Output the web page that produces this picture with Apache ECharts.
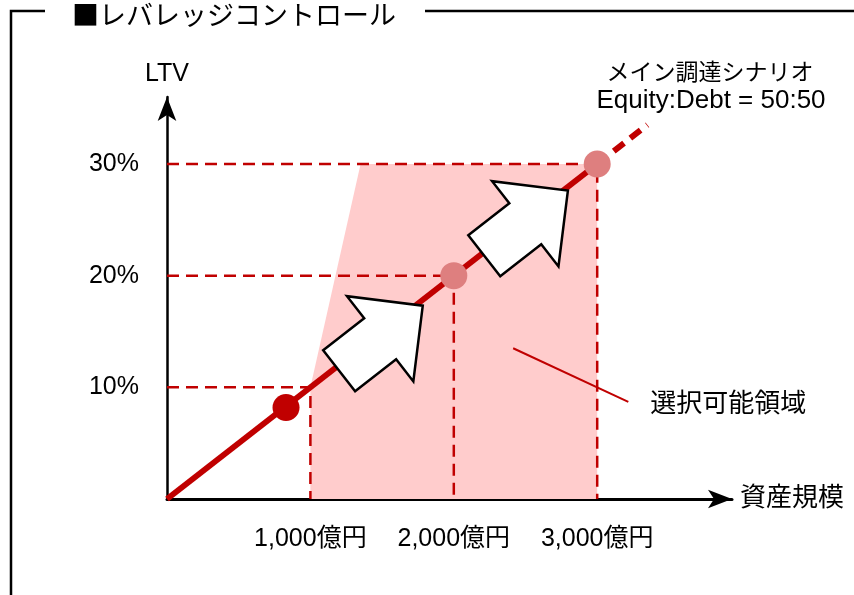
<!DOCTYPE html>
<html>
<head>
<meta charset="utf-8">
<script src="https://cdn.jsdelivr.net/npm/echarts@6/dist/echarts.min.js"></script>
<style>
  html, body { margin: 0; padding: 0; background: #fff; }
  #chart { width: 854px; height: 595px; }
</style>
</head>
<body>
<div id="chart"></div>
<script>
// Axis ticks: asset size (億円) and LTV (%)
const xTickValues = [1000, 2000, 3000];
const xTickLabels = ['1,000億円', '2,000億円', '3,000億円'];
const yTickValues = [10, 20, 30];
const yTickLabels = ['10%', '20%', '30%'];

// Main funding scenario: LTV grows with asset size
const scenarioSolid = [[0, 0], [3000, 30]];
const scenarioDashed = [[3000, 30], [3350, 33.5]];

// Markers on the scenario line
const currentPoint = [[830, 8.2]];
const targetPoints = [[2000, 20], [3000, 30]];

// Milestones (asset size, LTV) with drop lines to both axes
const milestoneX = [1000, 2000, 3000];
const milestoneY = [10, 20, 30];

// Outline of the selectable area
const regionX = [1000, 1000, 1350, 3000, 3000];
const regionY = [0, 10, 30, 30, 0];

// Growth arrows placed along the scenario line
const arrowX = [1492, 2504];
const arrowY = [14.4, 24.7];

// Leader line pointing into the selectable area
const leaderX = [2414, 3217];
const leaderY = [13.5, 8.7];

const FONT = "'Liberation Sans', Arial, 'Noto Sans CJK JP', sans-serif";
const JP_FONT = "'Noto Sans CJK JP', sans-serif";
const RED = '#c00000';
const PINK_FILL = '#ffcccc';
const PINK_DOT = '#de7f7f';

const chart = echarts.init(document.getElementById('chart'), null, { renderer: 'canvas' });

const pickLabel = (values, labels) => v => {
  const i = values.indexOf(v);
  return i < 0 ? '' : labels[i];
};

const dropLines = milestoneX.map((x, i) => ({
  type: 'line',
  z: 3,
  silent: true,
  symbol: 'none',
  data: [[0, milestoneY[i]], [x, milestoneY[i]], [x, 0]],
  lineStyle: { color: RED, width: 2.5, type: [12, 7] }
}));

const arrowShape = [[-53, -26], [-1, -26], [-1, -54], [53, 0], [-1, 54], [-1, 26], [-53, 26]];

const option = {
  animation: false,
  backgroundColor: '#fff',
  grid: { left: 167, right: 122, top: 97, bottom: 96, containLabel: false },
  xAxis: {
    type: 'value',
    min: 0,
    max: 3940,
    interval: 1000,
    name: '資産規模',
    nameLocation: 'end',
    nameGap: 8,
    nameTextStyle: { fontFamily: FONT, fontSize: 26, color: '#000', verticalAlign: 'middle', padding: [8, 0, 0, 0] },
    axisLine: {
      show: true, onZero: false,
      symbol: ['none', 'arrow'], symbolSize: [14, 24],
      lineStyle: { color: '#000', width: 3 }
    },
    axisTick: { show: false },
    splitLine: { show: false },
    axisLabel: {
      margin: 28, fontFamily: FONT, fontSize: 25, color: '#000',
      formatter: pickLabel(xTickValues, xTickLabels)
    }
  },
  yAxis: {
    type: 'value',
    min: 0,
    max: 36,
    interval: 10,
    name: 'LTV',
    nameLocation: 'end',
    nameGap: 10,
    nameTextStyle: { fontFamily: FONT, fontSize: 25, color: '#000' },
    axisLine: {
      show: true, onZero: false,
      symbol: ['none', 'arrow'], symbolSize: [14, 24],
      lineStyle: { color: '#000', width: 2.5 }
    },
    axisTick: { show: false },
    splitLine: { show: false },
    axisLabel: {
      margin: 28, fontFamily: FONT, fontSize: 25, color: '#000',
      formatter: pickLabel(yTickValues, yTickLabels)
    }
  },
  series: [
    {
      // selectable area
      type: 'custom',
      z: 1,
      silent: true,
      data: regionX.map((x, i) => [x, regionY[i]]),
      renderItem: (params, api) => {
        if (params.dataIndex !== 0) return null;
        const pts = regionX.map((x, i) => api.coord([x, regionY[i]]));
        return { type: 'polygon', shape: { points: pts }, style: { fill: PINK_FILL } };
      }
    },
    ...dropLines,
    {
      type: 'line',
      z: 4,
      silent: true,
      symbol: 'none',
      data: scenarioSolid,
      lineStyle: { color: RED, width: 6 }
    },
    {
      type: 'line',
      z: 4,
      silent: true,
      symbol: 'none',
      data: scenarioDashed,
      lineStyle: { color: RED, width: 6, type: [13, 8] }
    },
    {
      type: 'line',
      z: 4,
      silent: true,
      symbol: 'none',
      data: leaderX.map((x, i) => [x, leaderY[i]]),
      lineStyle: { color: RED, width: 2 },
      endLabel: {
        show: true,
        formatter: '選択可能領域',
        distance: 22,
        fontFamily: JP_FONT,
        fontSize: 26,
        color: '#000'
      }
    },
    {
      // growth arrows, aligned with the scenario line
      type: 'custom',
      z: 6,
      silent: true,
      data: arrowX.map((x, i) => [x, arrowY[i]]),
      renderItem: (params, api) => {
        const c = api.coord([api.value(0), api.value(1)]);
        const p0 = api.coord(scenarioSolid[0]);
        const p1 = api.coord(scenarioSolid[1]);
        const len = Math.hypot(p1[0] - p0[0], p1[1] - p0[1]);
        const ux = (p1[0] - p0[0]) / len, uy = (p1[1] - p0[1]) / len;
        const vx = -uy, vy = ux;
        const pts = arrowShape.map(([a, b]) => [c[0] + a * ux + b * vx, c[1] + a * uy + b * vy]);
        return {
          type: 'polygon',
          shape: { points: pts },
          style: { fill: '#fff', stroke: '#000', lineWidth: 2.5, lineJoin: 'miter' }
        };
      }
    },
    {
      type: 'scatter',
      z: 7,
      silent: true,
      symbol: 'circle',
      symbolSize: 27,
      data: currentPoint,
      itemStyle: { color: RED, opacity: 1 }
    },
    {
      type: 'scatter',
      z: 7,
      silent: true,
      symbol: 'circle',
      symbolSize: 27,
      data: targetPoints,
      itemStyle: { color: PINK_DOT, opacity: 1 }
    }
  ],
  graphic: [
    {
      type: 'polyline',
      silent: true,
      shape: { points: [[45, 11], [11, 11], [11, 600]] },
      style: { stroke: '#000', lineWidth: 2.5, fill: null }
    },
    {
      type: 'line',
      silent: true,
      shape: { x1: 425, y1: 11, x2: 860, y2: 11 },
      style: { stroke: '#000', lineWidth: 2.5 }
    },
    {
      type: 'text',
      silent: true,
      x: 72,
      y: 15,
      style: {
        text: '■レバレッジコントロール',
        font: '27px ' + JP_FONT,
        fill: '#000',
        verticalAlign: 'middle',
        align: 'left'
      }
    },
    {
      type: 'text',
      silent: true,
      x: 710,
      y: 71,
      style: {
        text: 'メイン調達シナリオ',
        font: '23px ' + JP_FONT,
        fill: '#000',
        verticalAlign: 'middle',
        align: 'center'
      }
    },
    {
      type: 'text',
      silent: true,
      x: 711,
      y: 101,
      style: {
        text: 'Equity:Debt = 50:50',
        font: '26px ' + FONT,
        fill: '#000',
        verticalAlign: 'middle',
        align: 'center'
      }
    }
  ]
};

chart.setOption(option);
</script>
</body>
</html>
